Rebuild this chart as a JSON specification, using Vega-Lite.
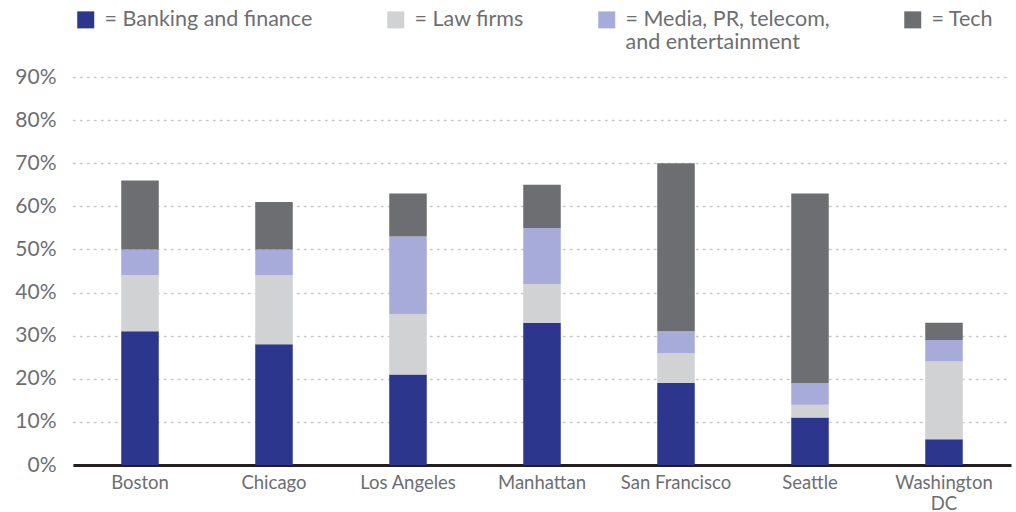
{
  "$schema": "https://vega.github.io/schema/vega-lite/v6.json",
  "autosize": "none",
  "width": 938,
  "height": 388,
  "padding": {"left": 73, "top": 77, "right": 5, "bottom": 47},
  "background": "white",
  "config": {
    "view": {"stroke": null},
    "font": "Lato",
    "text": {"font": "Lato"}
  },
  "data": {
    "values": [
      {"city": "Boston", "sector": "Banking and finance", "o": 1, "share": 0.31},
      {"city": "Boston", "sector": "Law firms", "o": 2, "share": 0.13},
      {"city": "Boston", "sector": "Media, PR, telecom, and entertainment", "o": 3, "share": 0.06},
      {"city": "Boston", "sector": "Tech", "o": 4, "share": 0.16},
      {"city": "Chicago", "sector": "Banking and finance", "o": 1, "share": 0.28},
      {"city": "Chicago", "sector": "Law firms", "o": 2, "share": 0.16},
      {"city": "Chicago", "sector": "Media, PR, telecom, and entertainment", "o": 3, "share": 0.06},
      {"city": "Chicago", "sector": "Tech", "o": 4, "share": 0.11},
      {"city": "Los Angeles", "sector": "Banking and finance", "o": 1, "share": 0.21},
      {"city": "Los Angeles", "sector": "Law firms", "o": 2, "share": 0.14},
      {"city": "Los Angeles", "sector": "Media, PR, telecom, and entertainment", "o": 3, "share": 0.18},
      {"city": "Los Angeles", "sector": "Tech", "o": 4, "share": 0.10},
      {"city": "Manhattan", "sector": "Banking and finance", "o": 1, "share": 0.33},
      {"city": "Manhattan", "sector": "Law firms", "o": 2, "share": 0.09},
      {"city": "Manhattan", "sector": "Media, PR, telecom, and entertainment", "o": 3, "share": 0.13},
      {"city": "Manhattan", "sector": "Tech", "o": 4, "share": 0.10},
      {"city": "San Francisco", "sector": "Banking and finance", "o": 1, "share": 0.19},
      {"city": "San Francisco", "sector": "Law firms", "o": 2, "share": 0.07},
      {"city": "San Francisco", "sector": "Media, PR, telecom, and entertainment", "o": 3, "share": 0.05},
      {"city": "San Francisco", "sector": "Tech", "o": 4, "share": 0.39},
      {"city": "Seattle", "sector": "Banking and finance", "o": 1, "share": 0.11},
      {"city": "Seattle", "sector": "Law firms", "o": 2, "share": 0.03},
      {"city": "Seattle", "sector": "Media, PR, telecom, and entertainment", "o": 3, "share": 0.05},
      {"city": "Seattle", "sector": "Tech", "o": 4, "share": 0.44},
      {"city": "Washington DC", "sector": "Banking and finance", "o": 1, "share": 0.06},
      {"city": "Washington DC", "sector": "Law firms", "o": 2, "share": 0.18},
      {"city": "Washington DC", "sector": "Media, PR, telecom, and entertainment", "o": 3, "share": 0.05},
      {"city": "Washington DC", "sector": "Tech", "o": 4, "share": 0.04}
    ]
  },
  "mark": {"type": "bar"},
  "encoding": {
    "x": {
      "field": "city",
      "type": "nominal",
      "sort": null,
      "scale": {"paddingInner": 0.72, "paddingOuter": 0.36},
      "axis": {
        "title": null,
        "labelAngle": 0,
        "labelFont": "Lato",
        "labelFontSize": 18.5,
        "labelColor": "#6D6E71",
        "labelPadding": 8,
        "ticks": false,
        "domainColor": "#231F20",
        "domainWidth": 3,
        "labelExpr": "datum.label == 'Washington DC' ? ['Washington', 'DC'] : datum.label",
        "labelLineHeight": 21
      }
    },
    "y": {
      "field": "share",
      "type": "quantitative",
      "stack": "zero",
      "scale": {"domain": [0, 0.9], "nice": false},
      "axis": {
        "title": null,
        "format": ".0%",
        "values": [0, 0.1, 0.2, 0.3, 0.4, 0.5, 0.6, 0.7, 0.8, 0.9],
        "labelOverlap": false,
        "domain": false,
        "ticks": false,
        "labelFont": "Lato",
        "labelFontSize": 21,
        "labelColor": "#6D6E71",
        "labelPadding": 17,
        "gridColor": "#C8C8C8",
        "gridDash": [1.5, 5.5],
        "gridWidth": 1.6,
        "gridCap": "round"
      }
    },
    "color": {
      "field": "sector",
      "type": "nominal",
      "scale": {
        "domain": ["Banking and finance", "Law firms", "Media, PR, telecom, and entertainment", "Tech"],
        "range": ["#2B368C", "#D1D2D4", "#A6ABDA", "#6D6E71"]
      },
      "legend": {
        "title": null,
        "orient": "none",
        "legendX": 2,
        "legendY": -68,
        "direction": "horizontal",
        "columns": 4,
        "columnPadding": 72,
        "symbolType": "square",
        "symbolSize": 289,
        "symbolStrokeWidth": 0,
        "labelFont": "Lato",
        "labelFontSize": 21.5,
        "labelColor": "#6D6E71",
        "labelOffset": 8,
        "labelLimit": 400,
        "labelBaseline": "middle",
        "labelLineHeight": 27,
        "labelExpr": "datum.label == 'Media, PR, telecom, and entertainment' ? ['= Media, PR, telecom,', '   and entertainment'] : ['= ' + datum.label, ' ']"
      }
    },
    "order": {"field": "o", "type": "quantitative"}
  }
}
